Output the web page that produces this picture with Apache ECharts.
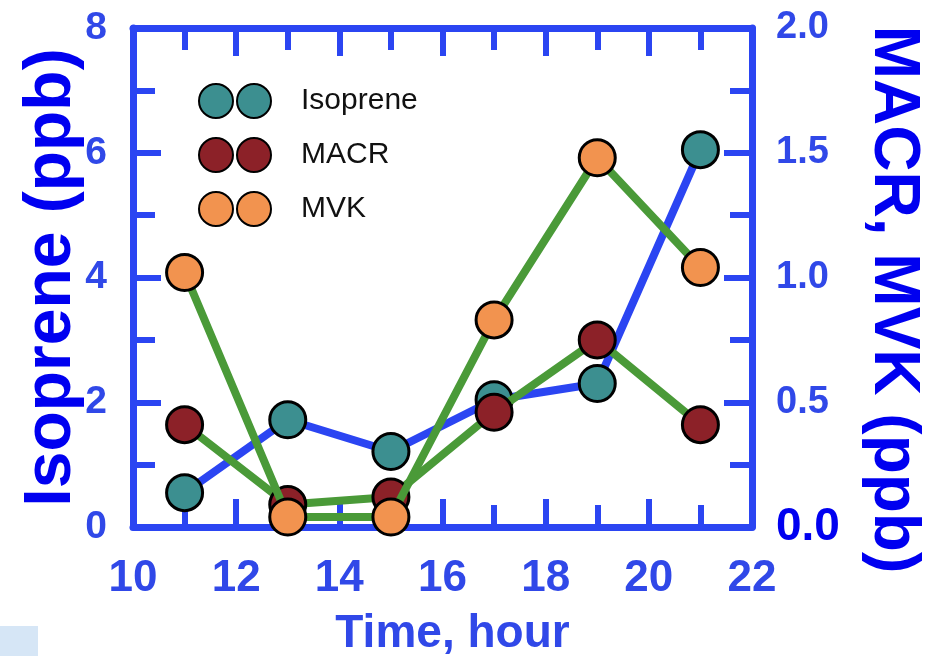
<!DOCTYPE html>
<html>
<head>
<meta charset="utf-8">
<script src="https://cdn.jsdelivr.net/npm/echarts@6/dist/echarts.min.js"></script>
<style>
  html, body { margin: 0; padding: 0; background: #fff; }
  #main { width: 926px; height: 656px; }
</style>
</head>
<body>
<div id="main"></div>
<script>
// time of day (hour)
const hours = [11, 13, 15, 17, 19, 21];
// isoprene, left axis (ppb)
const isoprene = [0.55, 1.72, 1.21, 2.04, 2.3, 6.05];
// MACR / MVK, right axis (ppb)
const macr = [0.41, 0.09, 0.12, 0.46, 0.75, 0.41];
const mvk = [1.02, 0.04, 0.04, 0.83, 1.48, 1.04];

const axisBlue = '#2b45f2';
const labelBlue = '#3048e8';
const titleBlue = '#0000f0';
const green = '#4a9a38';

const twoDots = 'path://M0,17A17,17 0 1,1 34,17A17,17 0 1,1 0,17ZM38,17A17,17 0 1,1 72,17A17,17 0 1,1 38,17Z';

const chart = echarts.init(document.getElementById('main'));

function pairs(ys) {
  return hours.map((h, i) => [h, ys[i]]);
}

function axisStyle() {
  return {
    axisLine: { show: true, onZero: false, lineStyle: { color: axisBlue, width: 7 } },
    axisTick: { show: true, inside: true, length: 28, lineStyle: { color: axisBlue, width: 6 } },
    minorTick: { show: true, splitNumber: 2, length: 22, lineStyle: { color: axisBlue, width: 6 } },
    splitLine: { show: false }
  };
}

const option = {
  backgroundColor: '#ffffff',
  animation: false,
  grid: { left: 133, right: 174, top: 28, bottom: 129, containLabel: false, outerBoundsMode: 'none' },
  legend: {
    left: 193,
    top: 78,
    orient: 'vertical',
    itemGap: 18,
    itemWidth: 74,
    itemHeight: 34,
    icon: twoDots,
    textStyle: {
      fontFamily: 'Liberation Sans, Arial, sans-serif',
      fontSize: 30,
      color: '#111',
      padding: [0, 0, 0, 24]
    },
    data: ['Isoprene', 'MACR', 'MVK']
  },
  xAxis: [
    Object.assign({
      type: 'value', min: 10, max: 22, interval: 2,
      position: 'bottom',
      name: 'Time, hour',
      nameLocation: 'middle',
      nameGap: 84,
      nameTextStyle: {
        fontFamily: 'Liberation Sans, Arial, sans-serif',
        fontWeight: 'bold', fontSize: 46, color: labelBlue,
        padding: [0, 0, 0, 20]
      },
      axisLabel: {
        margin: 30,
        fontFamily: 'Liberation Sans, Arial, sans-serif',
        fontWeight: 'bold', fontSize: 44, color: labelBlue
      }
    }, axisStyle()),
    Object.assign({
      type: 'value', min: 10, max: 22, interval: 2,
      position: 'top',
      axisLabel: { show: false }
    }, axisStyle())
  ],
  yAxis: [
    Object.assign({
      type: 'value', min: 0, max: 8, interval: 2,
      position: 'left',
      name: 'Isoprene (ppb)',
      nameLocation: 'middle',
      nameRotate: 90,
      nameGap: 48,
      nameMoveOverlap: false,
      nameTextStyle: {
        fontFamily: 'Liberation Sans, Arial, sans-serif',
        fontWeight: 'bold', fontSize: 66, color: titleBlue
      },
      axisLabel: {
        margin: 26,
        fontFamily: 'Liberation Sans, Arial, sans-serif',
        fontWeight: 'bold', fontSize: 39, color: labelBlue
      }
    }, axisStyle()),
    Object.assign({
      type: 'value', min: 0, max: 2, interval: 0.5,
      position: 'right',
      name: 'MACR, MVK (ppb)',
      nameLocation: 'middle',
      nameRotate: -90,
      nameGap: 109,
      nameMoveOverlap: false,
      nameTextStyle: {
        fontFamily: 'Liberation Sans, Arial, sans-serif',
        fontWeight: 'bold', fontSize: 64, color: titleBlue,
        padding: [0, 0, 0, 44]
      },
      axisLabel: {
        margin: 24,
        fontFamily: 'Liberation Sans, Arial, sans-serif',
        fontWeight: 'bold', fontSize: 38, color: labelBlue,
        formatter: v => v === 0 ? '{z|0.0}' : v.toFixed(1),
        rich: {
          z: {
            fontFamily: 'Liberation Sans, Arial, sans-serif',
            fontWeight: 'bold', fontSize: 46, color: titleBlue
          }
        }
      }
    }, axisStyle())
  ],
  series: [
    {
      name: 'Isoprene', type: 'line', xAxisIndex: 0, yAxisIndex: 0,
      data: pairs(isoprene),
      symbol: 'circle', symbolSize: 36, z: 2,
      lineStyle: { color: axisBlue, width: 8 },
      itemStyle: { color: '#3c8f90', borderColor: '#000', borderWidth: 3 }
    },
    {
      name: 'MACR', type: 'line', xAxisIndex: 0, yAxisIndex: 1,
      data: pairs(macr),
      symbol: 'circle', symbolSize: 36, z: 3,
      lineStyle: { color: green, width: 8 },
      itemStyle: { color: '#8c2128', borderColor: '#000', borderWidth: 3 }
    },
    {
      name: 'MVK', type: 'line', xAxisIndex: 0, yAxisIndex: 1,
      data: pairs(mvk),
      symbol: 'circle', symbolSize: 36, z: 4,
      lineStyle: { color: green, width: 8 },
      itemStyle: { color: '#f2934f', borderColor: '#000', borderWidth: 3 }
    }
  ],
  graphic: [
    {
      type: 'rect', left: 0, top: 626, silent: true,
      shape: { width: 38, height: 30 },
      style: { fill: '#d6e6f6' }
    }
  ]
};

chart.setOption(option);
</script>
</body>
</html>
